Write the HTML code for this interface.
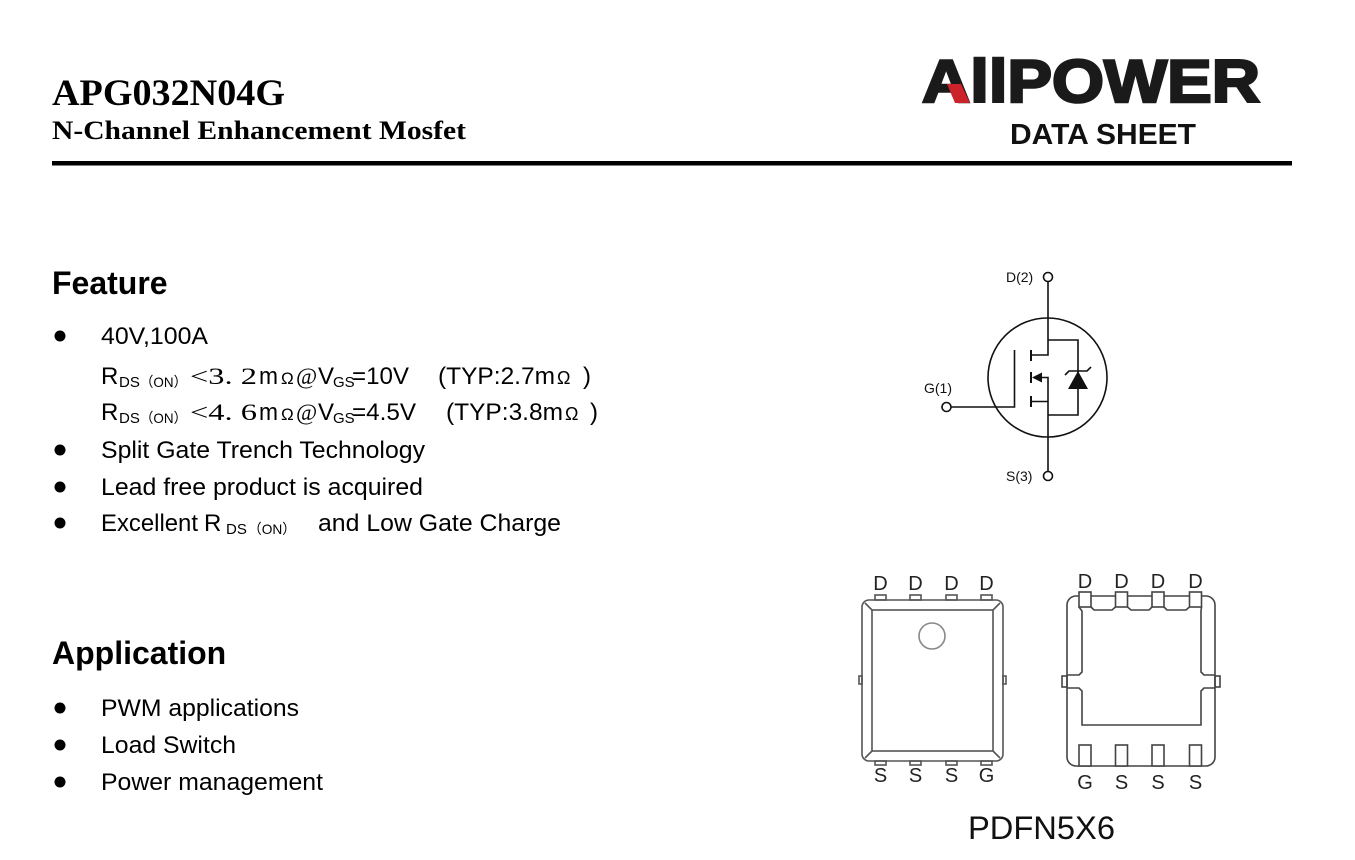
<!DOCTYPE html>
<html><head><meta charset="utf-8"><style>
html,body{margin:0;padding:0;background:#fff;}
svg{display:block;}
</style></head><body>
<svg width="1355" height="860" viewBox="0 0 1355 860" xmlns="http://www.w3.org/2000/svg">
<rect width="1355" height="860" fill="#fff"/>

<!-- Header -->
<text x="52" y="105" font-family="Liberation Serif, serif" font-weight="bold" font-size="37" textLength="233" lengthAdjust="spacingAndGlyphs" fill="#000">APG032N04G</text>
<text x="52" y="139" font-family="Liberation Serif, serif" font-weight="bold" font-size="26" textLength="414" lengthAdjust="spacingAndGlyphs" fill="#000">N-Channel Enhancement Mosfet</text>
<rect x="52" y="161" width="1240" height="4.5" fill="#000"/>

<!-- Logo -->
<text x="922" y="102" font-family="Liberation Sans, sans-serif" font-weight="bold" font-size="60" textLength="338" lengthAdjust="spacingAndGlyphs" fill="#1a1a1a" stroke="#1a1a1a" stroke-width="2.5">AllPOWER</text>
<polygon points="947,84 961,84 970,103 955,103" fill="#cc2229"/>
<text x="1010" y="144" font-family="Liberation Sans, sans-serif" font-weight="bold" font-size="29" textLength="186" lengthAdjust="spacingAndGlyphs" fill="#111">DATA SHEET</text>

<!-- Feature -->
<text x="52" y="294" font-family="Liberation Sans, sans-serif" font-weight="bold" font-size="32" fill="#000">Feature</text>

<g font-family="Liberation Sans, sans-serif" font-size="24" fill="#000">
  <circle cx="60" cy="336" r="5.5"/>
  <text x="101" y="344" textLength="107" lengthAdjust="spacingAndGlyphs">40V,100A</text>

  <!-- Row 1 -->
  <text x="101" y="384">R</text>
  <text x="119" y="387" font-size="15">DS</text>
  <text x="140" y="387" font-size="14" font-family="Liberation Sans, Noto Sans CJK SC, sans-serif" textLength="47" lengthAdjust="spacingAndGlyphs">（ON）</text>
  <text x="190" y="384" font-family="Liberation Serif, serif" font-size="23" textLength="67" lengthAdjust="spacingAndGlyphs">&lt;3. 2</text>
  <text x="259" y="384" textLength="19" lengthAdjust="spacingAndGlyphs">m</text>
  <text x="281" y="384" font-size="17">Ω</text>
  <text x="296" y="384" font-family="Liberation Serif, serif" font-size="23">@</text>
  <text x="318" y="384">V</text>
  <text x="333" y="387" font-size="15">GS</text>
  <text x="352" y="384" textLength="57" lengthAdjust="spacingAndGlyphs">=10V</text>
  <text x="438" y="384" textLength="117" lengthAdjust="spacingAndGlyphs">(TYP:2.7m</text>
  <text x="557" y="384" font-size="18">Ω</text>
  <text x="583" y="384">)</text>

  <!-- Row 2 -->
  <text x="101" y="420">R</text>
  <text x="119" y="423" font-size="15">DS</text>
  <text x="140" y="423" font-size="14" font-family="Liberation Sans, Noto Sans CJK SC, sans-serif" textLength="47" lengthAdjust="spacingAndGlyphs">（ON）</text>
  <text x="190" y="420" font-family="Liberation Serif, serif" font-size="23" textLength="67" lengthAdjust="spacingAndGlyphs">&lt;4. 6</text>
  <text x="259" y="420" textLength="19" lengthAdjust="spacingAndGlyphs">m</text>
  <text x="281" y="420" font-size="17">Ω</text>
  <text x="296" y="420" font-family="Liberation Serif, serif" font-size="23">@</text>
  <text x="318" y="420">V</text>
  <text x="333" y="423" font-size="15">GS</text>
  <text x="352" y="420" textLength="64" lengthAdjust="spacingAndGlyphs">=4.5V</text>
  <text x="446" y="420" textLength="117" lengthAdjust="spacingAndGlyphs">(TYP:3.8m</text>
  <text x="565" y="420" font-size="18">Ω</text>
  <text x="590" y="420">)</text>

  <circle cx="60" cy="450" r="5.5"/>
  <text x="101" y="458" textLength="324" lengthAdjust="spacingAndGlyphs">Split Gate Trench Technology</text>
  <circle cx="60" cy="487" r="5.5"/>
  <text x="101" y="495" textLength="322" lengthAdjust="spacingAndGlyphs">Lead free product is acquired</text>
  <circle cx="60" cy="523" r="5.5"/>
  <text x="101" y="531" textLength="97" lengthAdjust="spacingAndGlyphs">Excellent</text>
  <text x="204" y="531">R</text>
  <text x="226" y="534" font-size="15">DS</text>
  <text x="248" y="534" font-size="14" font-family="Liberation Sans, Noto Sans CJK SC, sans-serif" textLength="48" lengthAdjust="spacingAndGlyphs">（ON）</text>
  <text x="318" y="531" textLength="243" lengthAdjust="spacingAndGlyphs">and Low Gate Charge</text>
</g>

<!-- Application -->
<text x="52" y="664" font-family="Liberation Sans, sans-serif" font-weight="bold" font-size="32" fill="#000">Application</text>
<g font-family="Liberation Sans, sans-serif" font-size="24" fill="#000">
  <circle cx="60" cy="708" r="5.5"/>
  <text x="101" y="716" textLength="198" lengthAdjust="spacingAndGlyphs">PWM applications</text>
  <circle cx="60" cy="745" r="5.5"/>
  <text x="101" y="753" textLength="135" lengthAdjust="spacingAndGlyphs">Load Switch</text>
  <circle cx="60" cy="782" r="5.5"/>
  <text x="101" y="790" textLength="222" lengthAdjust="spacingAndGlyphs">Power management</text>
</g>

<!-- MOSFET symbol -->
<g fill="none" stroke="#111" stroke-width="1.6">
  <circle cx="1047.5" cy="377.5" r="59.5"/>
  <circle cx="1048" cy="277" r="4.5"/>
  <circle cx="1048" cy="476" r="4.5"/>
  <circle cx="946.5" cy="407" r="4.5"/>
  <polyline points="1048,281.5 1048,355 1031,355"/>
  <polyline points="1048,340 1078,340 1078,415 1048,415"/>
  <polyline points="1031,401.5 1048,401.5"/>
  <polyline points="1040,377.5 1048,377.5 1048,471.5"/>
  <polyline points="951,407 1014.5,407 1014.5,350"/>
  <line x1="1031" y1="350" x2="1031" y2="361" stroke-width="2"/>
  <line x1="1031" y1="372" x2="1031" y2="383" stroke-width="2"/>
  <line x1="1031" y1="396" x2="1031" y2="407" stroke-width="2"/>
  <polyline points="1065,375 1069,371 1087,371 1091,367"/>
</g>
<polygon points="1032,377.5 1042,372.5 1042,382.5" fill="#111"/>
<polygon points="1078,371 1068,389 1088,389" fill="#111"/>
<g font-family="Liberation Sans, sans-serif" font-size="14" fill="#111">
  <text x="1006" y="282">D(2)</text>
  <text x="924" y="393">G(1)</text>
  <text x="1006" y="481">S(3)</text>
</g>

<!-- Left package (top view) -->
<g fill="none" stroke="#555" stroke-width="1.6">
  <rect x="862" y="600" width="141" height="161" rx="7"/>
  <rect x="872" y="610" width="121" height="141"/>
  <line x1="865" y1="603" x2="872" y2="610"/>
  <line x1="1000" y1="603" x2="993" y2="610"/>
  <line x1="865" y1="758" x2="872" y2="751"/>
  <line x1="1000" y1="758" x2="993" y2="751"/>
  <circle cx="932" cy="636" r="13" stroke="#888"/>
  <rect x="875" y="595" width="11" height="5"/>
  <rect x="910" y="595" width="11" height="5"/>
  <rect x="946" y="595" width="11" height="5"/>
  <rect x="981" y="595" width="11" height="5"/>
  <rect x="875" y="761" width="11" height="4"/>
  <rect x="910" y="761" width="11" height="4"/>
  <rect x="946" y="761" width="11" height="4"/>
  <rect x="981" y="761" width="11" height="4"/>
  <rect x="859" y="676" width="3" height="8"/>
  <rect x="1003" y="676" width="3" height="8"/>
</g>
<g font-family="Liberation Sans, sans-serif" font-size="20" fill="#222" text-anchor="middle">
  <text x="880.5" y="590">D</text>
  <text x="915.5" y="590">D</text>
  <text x="951.5" y="590">D</text>
  <text x="986.5" y="590">D</text>
  <text x="880.5" y="782">S</text>
  <text x="915.5" y="782">S</text>
  <text x="951.5" y="782">S</text>
  <text x="986.5" y="782">G</text>
</g>

<!-- Right package (bottom view) -->
<g fill="none" stroke="#444" stroke-width="1.6">
  <rect x="1067" y="596" width="148" height="170" rx="9"/>
  <path d="M1079,607 L1082,611 L1082,672 L1079,675 L1067,675"/>
  <path d="M1067,688 L1079,688 L1082,691 L1082,725 L1201,725 L1201,691 L1204,688 L1215,688"/>
  <path d="M1215,675 L1204,675 L1201,672 L1201,611 L1201.5,607"/>
  <path d="M1091,607 L1094,610 L1112,610 L1115.5,607"/>
  <path d="M1127.5,607 L1131,610 L1149,610 L1152,607"/>
  <path d="M1164,607 L1167,610 L1186,610 L1189.5,607"/>
  <rect x="1062" y="676" width="5" height="11"/>
  <rect x="1215" y="676" width="5" height="11"/>
</g>
<g fill="#fff" stroke="#444" stroke-width="1.6">
  <rect x="1079" y="592" width="12" height="15"/>
  <rect x="1115.5" y="592" width="12" height="15"/>
  <rect x="1152" y="592" width="12" height="15"/>
  <rect x="1189.5" y="592" width="12" height="15"/>
  <rect x="1079" y="745" width="12" height="21"/>
  <rect x="1115.5" y="745" width="12" height="21"/>
  <rect x="1152" y="745" width="12" height="21"/>
  <rect x="1189.5" y="745" width="12" height="21"/>
</g>
<g font-family="Liberation Sans, sans-serif" font-size="20" fill="#222" text-anchor="middle">
  <text x="1085" y="588">D</text>
  <text x="1121.5" y="588">D</text>
  <text x="1158" y="588">D</text>
  <text x="1195.5" y="588">D</text>
  <text x="1085" y="789">G</text>
  <text x="1121.5" y="789">S</text>
  <text x="1158" y="789">S</text>
  <text x="1195.5" y="789">S</text>
</g>

<text x="968" y="839" font-family="Liberation Sans, sans-serif" font-size="32" fill="#111" textLength="147" lengthAdjust="spacingAndGlyphs">PDFN5X6</text>
</svg>
</body></html>
